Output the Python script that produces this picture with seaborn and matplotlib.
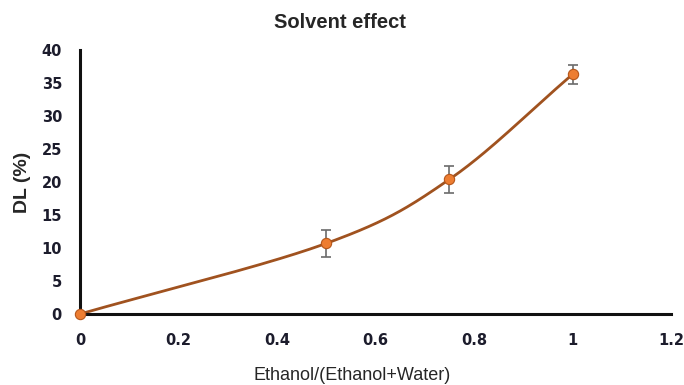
import numpy as np
import pandas as pd
import matplotlib
matplotlib.use("Agg")
import matplotlib.pyplot as plt
import seaborn as sns

# Solvent composition vs drug loading
ratio = [0.0, 0.5, 0.75, 1.0]
dl = [0.0, 10.7, 20.4, 36.3]
dl_err = [0.0, 2.0, 2.0, 1.5]
x_ticks = [0, 0.2, 0.4, 0.6, 0.8, 1, 1.2]
y_ticks = [0, 5, 10, 15, 20, 25, 30, 35, 40]

df = pd.DataFrame({"ratio": ratio, "dl": dl, "err": dl_err})

sns.set_theme(style="white")
plt.rcParams["font.family"] = ["Liberation Sans", "DejaVu Sans"]


def smooth_curve(x, y, n=60):
    """Catmull-Rom style smoothing through the data points."""
    x = np.asarray(x, float)
    y = np.asarray(y, float)
    px = np.concatenate([[2 * x[0] - x[1]], x, [2 * x[-1] - x[-2]]])
    py = np.concatenate([[2 * y[0] - y[1]], y, [2 * y[-1] - y[-2]]])
    xs, ys = [], []
    for i in range(1, len(px) - 2):
        t = np.linspace(0, 1, n)
        for arr, out in ((px, xs), (py, ys)):
            p0, p1, p2, p3 = arr[i - 1], arr[i], arr[i + 1], arr[i + 2]
            m1 = (p2 - p0) / 2
            m2 = (p3 - p1) / 2
            h00 = 2 * t**3 - 3 * t**2 + 1
            h10 = t**3 - 2 * t**2 + t
            h01 = -2 * t**3 + 3 * t**2
            h11 = t**3 - t**2
            out.append(h00 * p1 + h10 * m1 + h01 * p2 + h11 * m2)
    return np.concatenate(xs), np.concatenate(ys)


W, H = 684, 385
fig = plt.figure(figsize=(W / 100, H / 100), dpi=100)
ax = fig.add_axes([80 / W, 71 / H, (671 - 80) / W, (314 - 50) / H])

sx, sy = smooth_curve(df["ratio"], df["dl"])
curve = pd.DataFrame({"ratio": sx, "dl": sy})
sns.lineplot(data=curve, x="ratio", y="dl", ax=ax, color="#A0521F",
             linewidth=2.0, sort=False, zorder=2)

ax.errorbar(df["ratio"], df["dl"], yerr=df["err"], fmt="none",
            ecolor="#6b6b6b", elinewidth=1.2, capsize=3.8, capthick=1.2, zorder=3)
sns.scatterplot(data=df, x="ratio", y="dl", ax=ax, color="#ED7D31",
                edgecolor="#B5561A", linewidth=0.8, s=55, zorder=4,
                clip_on=False)

ax.set_xlim(0, 1.2)
ax.set_ylim(0, 40)
ax.set_xticks(x_ticks)
ax.set_xticklabels([f"{v:g}" for v in x_ticks])
ax.set_yticks(y_ticks)
for lab in ax.get_xticklabels() + ax.get_yticklabels():
    lab.set_fontfamily("DejaVu Sans")
    lab.set_fontweight("bold")
    lab.set_fontsize(10.5)
    lab.set_color("#1c1c2c")
ax.tick_params(axis="y", length=0, pad=13)
ax.tick_params(axis="x", length=0, pad=14)

for side in ("top", "right"):
    ax.spines[side].set_visible(False)
for side in ("left", "bottom"):
    ax.spines[side].set_color("#111111")
    ax.spines[side].set_linewidth(2.2)

ax.set_xlabel("Ethanol/(Ethanol+Water)", fontsize=13)
ax.set_ylabel("DL (%)", fontsize=14, fontweight="bold")
ax.xaxis.set_label_coords((352 - 80) / (671 - 80), -(376 - 314) / (314 - 50))
ax.yaxis.set_label_coords(-(80 - 22) / (671 - 80), (314 - 182) / (314 - 50))
ax.xaxis.label.set_va("center")
ax.yaxis.label.set_va("center")
fig.text(340 / W, 1 - 22 / H, "Solvent effect", ha="center", va="center",
         fontsize=14.5, fontweight="bold")
ax.grid(False)

fig.savefig("out.png", dpi=100)
